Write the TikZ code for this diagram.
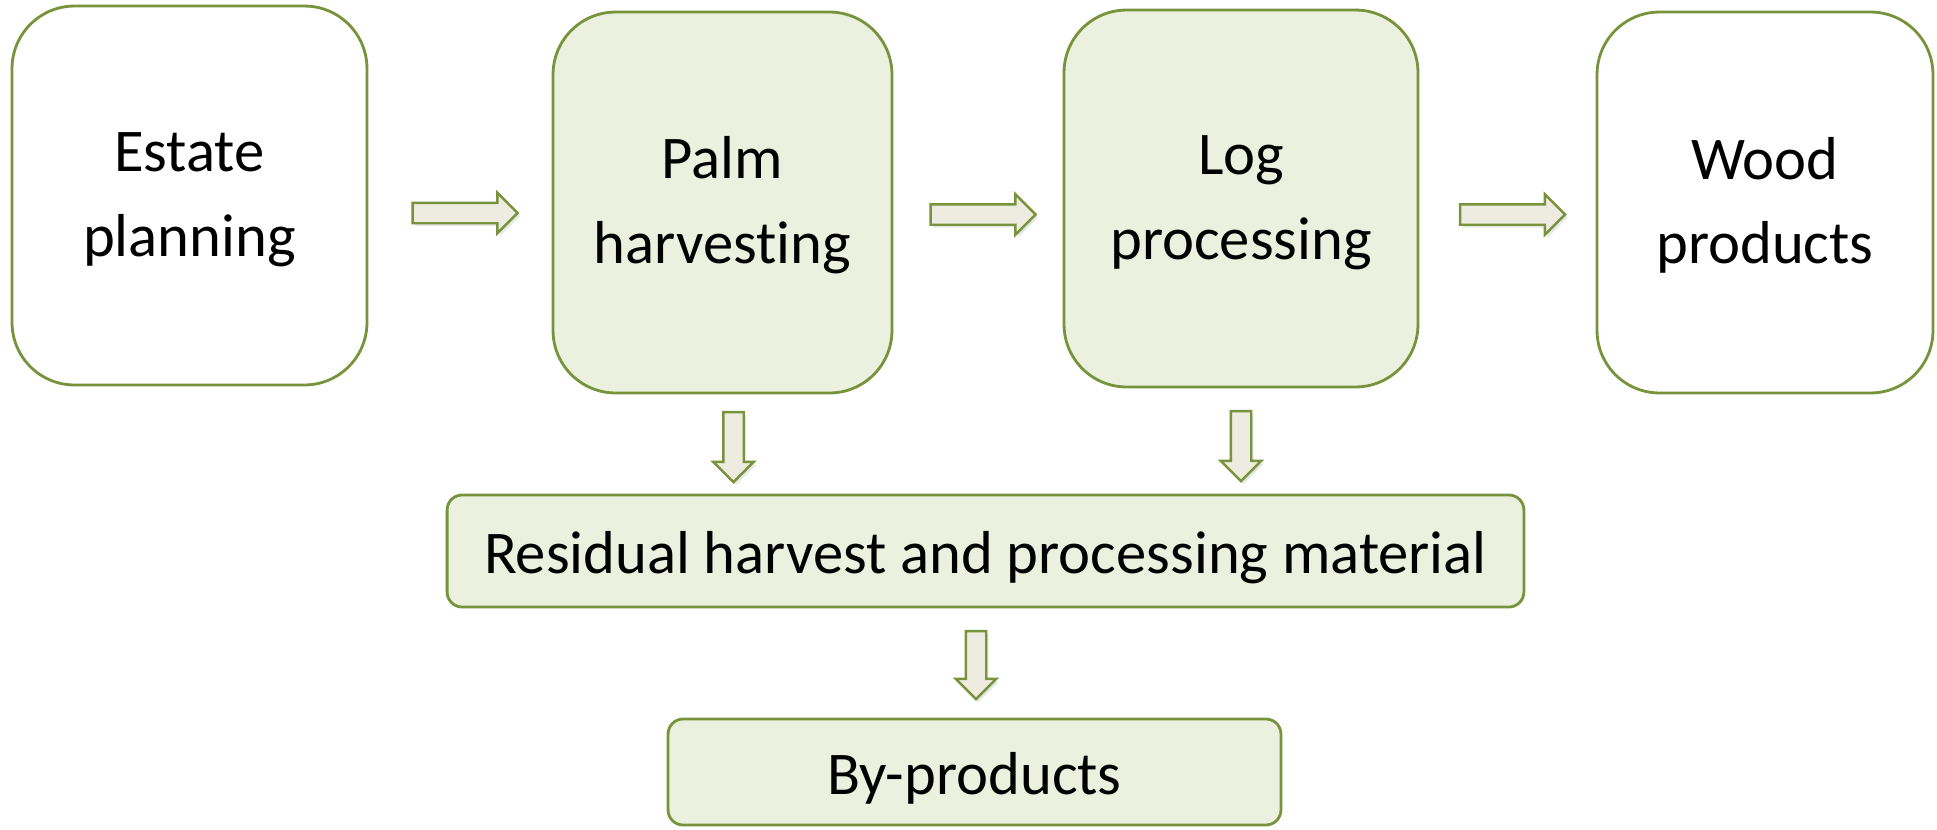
\documentclass[tikz,border=0pt]{standalone}
\usepackage{fontspec}
\setmainfont[Ligatures={NoCommon}]{Carlito}
\usetikzlibrary{positioning,calc,shapes.arrows,shadows}
\definecolor{boxgreen}{RGB}{119,147,60}
\definecolor{boxfill}{RGB}{235,241,222}
\definecolor{arrowfill}{RGB}{238,236,225}

\begin{document}
\begin{tikzpicture}[
    x=0.02cm,
    y=-0.02cm,
    stage/.style={
        draw=boxgreen,
        line width=1.6pt,
        rounded corners=1.25cm,
        inner sep=0pt,
        align=center,
        text height=75pt,
        font=\fontsize{34.5}{48}\selectfont
    },
    band/.style={
        draw=boxgreen,
        line width=1.6pt,
        fill=boxfill,
        rounded corners=0.3cm,
        inner sep=0pt,
        text height=31pt,
        font=\fontsize{34.5}{48}\selectfont
    },
    flow/.style={
        single arrow,
        draw=boxgreen,
        line width=1.4pt,
        fill=arrowfill,
        inner xsep=0pt,
        inner ysep=0.18cm,
        minimum width=0pt,
        minimum height=2.1cm,
        single arrow head extend=0.2cm,
        single arrow head indent=0pt,
        drop shadow={shadow xshift=0.05cm, shadow yshift=-0.06cm, opacity=0.18}
    }
]
    \useasboundingbox (0,0) rectangle (1937,829);

    % Hlavní řada kroků
    \node[stage, minimum width=7.1cm, minimum height=7.58cm]
        (est) at (189.5,195.5) {Estate\\planning};
    \node[stage, fill=boxfill, minimum width=6.78cm, minimum height=7.62cm]
        (palm) at (722.5,202.5) {Palm\\harvesting};
    \node[stage, fill=boxfill, minimum width=7.08cm, minimum height=7.54cm]
        (log) at (1241,198.5) {Log\\processing};
    \node[stage, minimum width=6.72cm, minimum height=7.62cm]
        (wood) at (1765,202.5) {Wood\\products};

    % Zbytky a vedlejší produkty
    \node[band, minimum width=21.54cm, minimum height=2.24cm]
        (resid) at (985.5,551) {Residual harvest and processing material};
    \node[band, minimum width=12.26cm, minimum height=2.12cm]
        (byp) at (974.5,772) {By-products};

    % Šipky
    \foreach \src/\dst/\name in {est/palm/h1, palm/log/h2, log/wood/h3}{
        \node[flow] (\name) at ($(\src.east)!0.5!(\dst.west)+(0,14)$) {};
    }
    \node[flow, rotate=-90, minimum height=1.4cm]
        (v1) at ($(palm.south)!0.5!(palm.south |- resid.north)+(11,-2)$) {};
    \node[flow, rotate=-90, minimum height=1.4cm]
        (v2) at ($(log.south)!0.5!(log.south |- resid.north)$) {};
    \node[flow, rotate=-90, minimum height=1.36cm]
        (v3) at ($(resid.south)!0.5!(byp.north)+(-4,-3)$) {};

\end{tikzpicture}
\end{document}
